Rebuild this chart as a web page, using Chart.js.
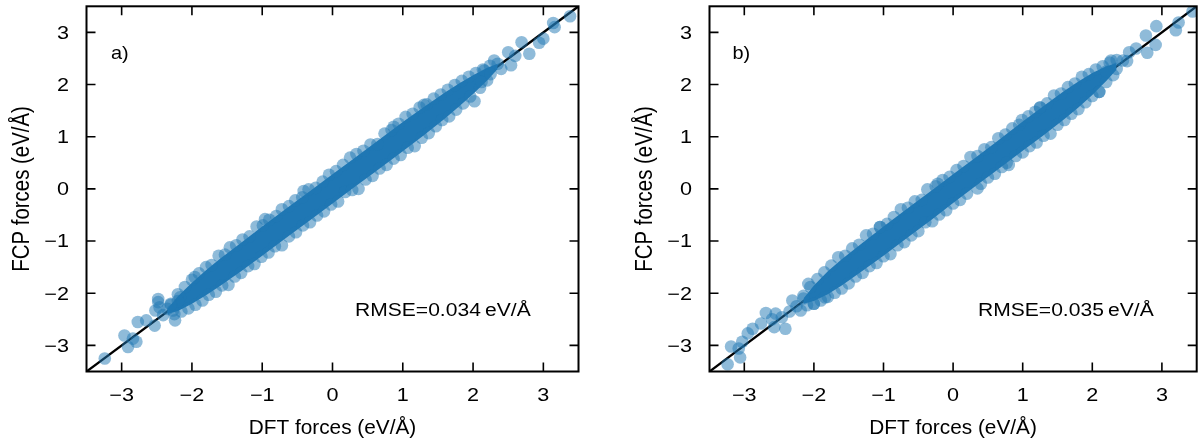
<!DOCTYPE html>
<html><head><meta charset="utf-8">
<script src="https://cdn.jsdelivr.net/npm/chart.js@4.4.0/dist/chart.umd.min.js"></script>
<style>
html,body{margin:0;padding:0;background:#fff;overflow:hidden;width:1203px;height:443px}
.pane{position:absolute;top:0;height:443px}
#pa{left:0;width:600px}
#pb{left:600px;width:603px}
canvas{display:block}
</style></head><body>
<div class="pane" id="pa"><canvas id="ca"></canvas></div>
<div class="pane" id="pb"><canvas id="cb"></canvas></div>
<script>
// ---- axes / ticks ----
const axisMin = -3.5, axisMax = 3.5;
const xTicks = [-3, -2, -1, 0, 1, 2, 3];
const yTicks = [-3, -2, -1, 0, 1, 2, 3];
const tickLabels = ['\u22123', '\u22122', '\u22121', '0', '1', '2', '3'];
const xTitle = 'DFT forces (eV/\u00c5)';
const yTitle = 'FCP forces (eV/\u00c5)';
const panelLabels = ['a)', 'b)'];
const rmseLabels = ['RMSE=0.034\u2009eV/\u00c5', 'RMSE=0.035\u2009eV/\u00c5'];

// ---- parity line y = x ----
const diagX = [-3.5, 3.5];
const diagY = [-3.5, 3.5];

// ---- panel a: envelope of the dense core ----
const bandXA  = [-2.35, -2.2, -2.0, -1.8, -1.6, -1.3, -1.0, -0.6, -0.3, 0, 0.3, 0.6, 1.0, 1.3, 1.6, 1.8, 2.0, 2.2, 2.35];
const bandHiA = [-2.30, -2.06, -1.80, -1.56, -1.34, -1.03, -0.72, -0.32, -0.02, 0.28, 0.58, 0.88, 1.28, 1.57, 1.85, 2.02, 2.18, 2.32, 2.40];
const bandLoA = [-2.40, -2.34, -2.20, -2.04, -1.86, -1.58, -1.28, -0.88, -0.58, -0.28, 0.02, 0.32, 0.72, 1.03, 1.35, 1.58, 1.82, 2.08, 2.30];

// panel a: individual points at the cloud's edges
const edgeA = [
 [-2.3,-2.2],[-2.2,-2.02],[-2.1,-1.88],[-2.0,-1.74],[-1.9,-1.62],[-1.8,-1.5],[-1.72,-1.46],[-1.62,-1.28],
 [-1.53,-1.26],[-1.46,-1.12],[-1.37,-1.08],[-1.28,-0.97],[-1.18,-0.91],[-1.08,-0.72],[-0.99,-0.70],[-0.9,-0.59],
 [-0.8,-0.52],[-0.72,-0.39],[-0.62,-0.33],[-0.53,-0.22],[-0.43,-0.16],[-0.34,-0.01],[-0.24,0.02],[-0.14,0.14],
 [-0.05,0.27],[0.05,0.34],[0.15,0.46],[0.25,0.60],[0.34,0.67],[0.44,0.73],[0.54,0.85],[0.64,0.86],[0.74,1.06],
 [0.84,1.13],[0.94,1.25],[1.04,1.38],[1.14,1.44],[1.24,1.56],[1.34,1.62],[1.44,1.73],[1.54,1.81],[1.64,1.90],
 [1.74,1.99],[1.84,2.07],[1.94,2.15],[2.04,2.22],[2.14,2.29],[2.24,2.36],
 [-2.25,-2.40],[-2.15,-2.35],[-2.05,-2.29],[-1.95,-2.22],[-1.85,-2.14],[-1.76,-2.03],[-1.66,-1.97],[-1.57,-1.85],
 [-1.48,-1.84],[-1.39,-1.68],[-1.3,-1.61],[-1.2,-1.48],[-1.11,-1.44],[-1.01,-1.30],[-0.91,-1.22],[-0.82,-1.10],
 [-0.72,-1.08],[-0.62,-0.91],[-0.52,-0.83],[-0.42,-0.70],[-0.32,-0.64],[-0.22,-0.51],[-0.12,-0.43],[-0.02,-0.30],
 [0.08,-0.24],[0.18,-0.06],[0.28,-0.02],[0.37,0.0],[0.47,0.18],[0.57,0.25],[0.67,0.39],[0.77,0.46],[0.87,0.58],
 [0.97,0.65],[1.07,0.79],[1.17,0.82],[1.27,0.98],[1.37,1.07],[1.47,1.20],[1.56,1.32],[1.66,1.39],[1.76,1.52],
 [1.86,1.64],[1.96,1.77],[2.02,1.68],[2.1,1.94],[2.2,2.08]
];
// panel a: tails and stray points
const tailA = [
 [-0.96,-0.58],[-0.41,-0.04],[0.87,1.19],[1.30,1.61],
 [2.16,2.27],[2.12,2.05],[2.25,2.2],[2.3,2.46],[2.35,2.40],[2.4,2.3],[2.5,2.62],[2.54,2.37],[2.6,2.55],
 [2.69,2.81],[2.80,2.59],[2.94,2.80],[3.0,2.88],[3.14,3.18],[3.16,3.10],[3.38,3.31],
 [-3.24,-3.25],[-2.96,-2.81],[-2.91,-3.03],[-2.79,-2.93],[-2.84,-2.87],[-2.77,-2.55],[-2.65,-2.52],
 [-2.52,-2.33],[-2.48,-2.17],[-2.53,-2.62],[-2.41,-2.42],[-2.24,-2.52],[-2.27,-2.33],[-2.46,-2.27],
 [-1.96,-1.69],[-2.17,-2.08],[-2.2,-2.15],[-2.48,-2.11],[-2.35,-2.3],[-2.3,-2.22]
];

// ---- panel b ----
const bandXB  = [-2.15, -2.0, -1.8, -1.6, -1.3, -1.0, -0.6, -0.3, 0, 0.3, 0.6, 1.0, 1.3, 1.6, 1.8, 2.0, 2.2, 2.35];
const bandHiB = [-2.10, -1.85, -1.58, -1.35, -1.03, -0.72, -0.32, -0.02, 0.28, 0.58, 0.88, 1.29, 1.59, 1.88, 2.06, 2.22, 2.35, 2.41];
const bandLoB = [-2.20, -2.15, -2.02, -1.85, -1.57, -1.28, -0.88, -0.58, -0.27, 0.03, 0.33, 0.73, 1.03, 1.34, 1.56, 1.80, 2.07, 2.29];

const edgeB = [
 [-2.15,-2.05],[-2.05,-1.88],[-1.95,-1.73],[-1.85,-1.60],[-1.75,-1.47],[-1.65,-1.31],[-1.55,-1.28],[-1.45,-1.14],
 [-1.35,-1.07],[-1.25,-0.89],[-1.15,-0.86],[-1.05,-0.73],[-0.95,-0.67],[-0.85,-0.54],[-0.75,-0.39],[-0.65,-0.36],
 [-0.55,-0.24],[-0.45,-0.21],[-0.37,-0.01],[-0.25,0.05],[-0.15,0.17],[-0.05,0.23],[0.05,0.36],[0.15,0.44],
 [0.25,0.61],[0.35,0.63],[0.45,0.76],[0.55,0.80],[0.65,0.97],[0.75,1.04],[0.85,1.16],[0.95,1.23],[0.99,1.32],
 [1.08,1.39],[1.18,1.48],[1.25,1.56],[1.35,1.64],[1.45,1.79],[1.55,1.83],[1.65,1.95],[1.75,2.02],[1.85,2.15],
 [1.95,2.20],[2.05,2.29],[2.15,2.35],[2.25,2.42],[2.35,2.47],
 [-2.1,-2.23],[-2.0,-2.20],[-1.9,-2.14],[-1.8,-2.07],[-1.7,-1.99],[-1.6,-1.91],[-1.5,-1.81],[-1.4,-1.68],
 [-1.3,-1.61],[-1.2,-1.48],[-1.1,-1.42],[-1.0,-1.29],[-0.9,-1.25],[-0.8,-1.08],[-0.7,-1.02],[-0.6,-0.89],
 [-0.5,-0.81],[-0.4,-0.64],[-0.3,-0.62],[-0.2,-0.49],[-0.1,-0.41],[0.0,-0.28],[0.1,-0.21],[0.2,-0.09],
 [0.35,0.01],[0.4,0.10],[0.5,0.22],[0.6,0.29],[0.7,0.42],[0.8,0.46],[0.9,0.63],[1.0,0.70],[1.1,0.82],
 [1.2,0.89],[1.3,1.02],[1.4,1.06],[1.5,1.23],[1.6,1.32],[1.7,1.44],[1.8,1.53],[1.9,1.66],[2.0,1.78],
 [2.1,1.86],[2.2,2.05],[2.3,2.18]
];
const tailB = [
 [-1.05,-0.73],[-0.22,0.10],[0.77,0.5],[1.25,1.56],
 [3.44,3.40],[3.24,3.19],[3.20,3.04],[2.92,3.12],[2.77,2.94],[2.91,2.76],[2.79,2.61],[2.63,2.69],[2.53,2.62],
 [2.44,2.46],[2.27,2.46],[2.10,1.86],[2.35,2.3],[2.5,2.45],[2.2,2.25],
 [-3.24,-3.36],[-3.06,-3.23],[-3.19,-3.02],[-3.08,-3.06],[-3.03,-2.93],[-2.95,-2.77],[-2.88,-2.68],
 [-2.76,-2.58],[-2.69,-2.38],[-2.57,-2.65],[-2.55,-2.39],[-2.41,-2.68],[-2.46,-2.46],[-2.31,-2.14],
 [-2.08,-1.82],[-2.19,-2.33],[-2.0,-2.2],[-1.84,-2.08],[-2.25,-2.25],[-2.35,-2.35],[-2.6,-2.5],[-2.15,-2.1]
];

// ---- drawing helpers ----
const FONT = '"Liberation Sans", Arial, Helvetica, sans-serif';
const CORE = 'rgb(31,119,180)';
const DOT = 'rgba(31,119,180,0.5)';

function txt(ctx, s, x, y, size, kx, ky, align, rot) {
  ctx.save();
  ctx.translate(x, y);
  if (rot) ctx.rotate(rot);
  ctx.scale(kx, ky);
  ctx.font = size + 'px ' + FONT;
  ctx.textAlign = align;
  ctx.textBaseline = 'alphabetic';
  ctx.fillStyle = '#000';
  ctx.fillText(s, 0, 0);
  ctx.restore();
}

function framePlugin(i, labelX, yTitleX) {
  return {
    id: 'frame' + i,
    afterDraw(chart) {
      const ctx = chart.ctx, a = chart.chartArea;
      const sx = chart.scales.x, sy = chart.scales.y;
      const TL = 9;
      ctx.save();
      ctx.strokeStyle = '#000';
      ctx.lineWidth = 1.6;
      ctx.beginPath();
      xTicks.forEach(v => {
        const p = sx.getPixelForValue(v);
        ctx.moveTo(p, a.bottom); ctx.lineTo(p, a.bottom - TL);
        ctx.moveTo(p, a.top); ctx.lineTo(p, a.top + TL);
      });
      yTicks.forEach(v => {
        const p = sy.getPixelForValue(v);
        ctx.moveTo(a.left, p); ctx.lineTo(a.left + TL, p);
        ctx.moveTo(a.right, p); ctx.lineTo(a.right - TL, p);
      });
      ctx.stroke();
      ctx.lineWidth = 2;
      ctx.strokeRect(a.left, a.top, a.right - a.left, a.bottom - a.top);
      ctx.restore();
      // tick labels
      xTicks.forEach((v, k) => txt(ctx, tickLabels[k], sx.getPixelForValue(v), 401, 18, 1.2, 1, 'center'));
      yTicks.forEach((v, k) => txt(ctx, tickLabels[k], a.left - 17.5, sy.getPixelForValue(v) + 6.4, 18, 1.2, 1, 'right'));
      // axis titles
      txt(ctx, xTitle, (a.left + a.right) / 2, 433.5, 20, 1.04, 1, 'center');
      txt(ctx, yTitle, yTitleX, (a.top + a.bottom) / 2, 20, 1.02, 1.15, 'center', -Math.PI / 2);
      // panel label and RMSE
      txt(ctx, panelLabels[i], labelX, 58.5, 19, 1.05, 1, 'left');
      txt(ctx, rmseLabels[i], a.left + 268.5, 315.8, 18, 1.17, 1, 'left');
    }
  };
}

function toXY(xs, ys) { return xs.map((x, k) => ({x: x, y: ys[k]})); }
function pairs(arr) { return arr.map(p => ({x: p[0], y: p[1]})); }

function makeChart(id, i, bandX, bandHi, bandLo, pts, pad, labelX, yTitleX) {
  return new Chart(document.getElementById(id), {
    type: 'scatter',
    data: {
      datasets: [
        {type: 'line', data: toXY(diagX, diagY), borderColor: '#000', borderWidth: 2.4,
         pointRadius: 0, fill: false, order: 3},
        {type: 'line', data: toXY(bandX, bandHi), borderWidth: 0, borderColor: CORE,
         backgroundColor: CORE, pointRadius: 0, fill: '+1', tension: 0, order: 2},
        {type: 'line', data: toXY(bandX, bandLo), borderWidth: 0, borderColor: CORE,
         backgroundColor: CORE, pointRadius: 0, fill: false, tension: 0, order: 2},
        {type: 'scatter', data: pairs(pts), backgroundColor: DOT, borderWidth: 0,
         pointRadius: 6.3, order: 1}
      ]
    },
    options: {
      responsive: true, maintainAspectRatio: false, animation: false, events: [],
      layout: {padding: pad},
      plugins: {legend: {display: false}, tooltip: {enabled: false}},
      scales: {
        x: {type: 'linear', min: axisMin, max: axisMax, display: false},
        y: {type: 'linear', min: axisMin, max: axisMax, display: false}
      }
    },
    plugins: [framePlugin(i, labelX, yTitleX)]
  });
}

makeChart('ca', 0, bandXA, bandHiA, bandLoA, edgeA.concat(tailA),
  {left: 86.5, right: 21.5, top: 4, bottom: 71.5}, 111, 28.5);
makeChart('cb', 1, bandXB, bandHiB, bandLoB, edgeB.concat(tailB),
  {left: 109.5, right: 1.5, top: 4, bottom: 71.5}, 132.5, 51.5);
</script>
</body></html>
